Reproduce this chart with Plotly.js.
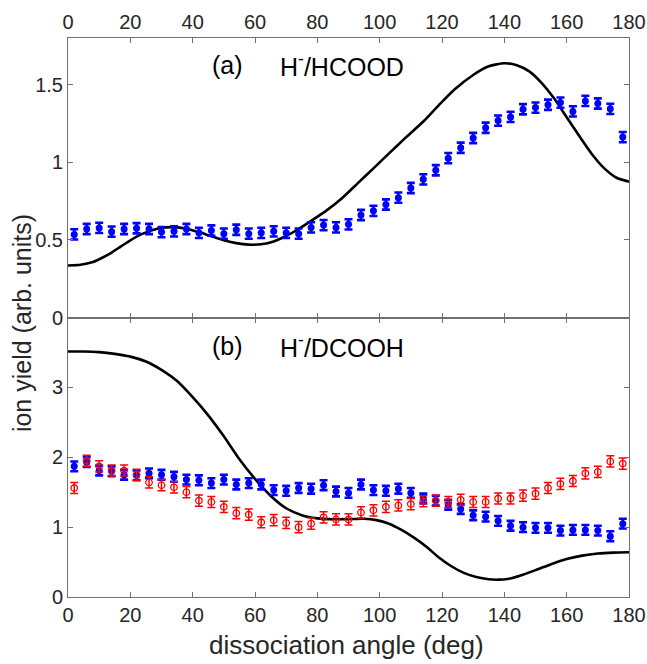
<!DOCTYPE html>
<html>
<head>
<meta charset="utf-8">
<script src="https://cdn.plot.ly/plotly-3.0.1.min.js"></script>
<style>html,body{margin:0;padding:0;background:#fff;}</style>
</head>
<body>
<div id="chart" style="width:647px;height:664px;"></div>
<script>
// Measured angles (deg)
var angles = [2,6,10,14,18,22,26,30,34,38,42,46,50,54,58,62,66,70,74,78,82,86,90,94,98,102,106,110,114,118,122,126,130,134,138,142,146,150,154,158,162,166,170,174,178];

// (a) H-/HCOOD measured yield
var hcoodYield = [0.535,0.57,0.577,0.553,0.57,0.575,0.57,0.55,0.555,0.57,
                  0.545,0.56,0.54,0.565,0.54,0.545,0.555,0.545,0.54,0.58,
                  0.595,0.58,0.6,0.66,0.687,0.728,0.772,0.834,0.89,0.948,
                  1.026,1.093,1.156,1.222,1.268,1.292,1.341,1.352,1.37,1.384,
                  1.327,1.395,1.378,1.344,1.162];

// (a) model curve
var hcoodCurveX = [0,4,8,11,14,17,20,24,29,34,38,42,46,50,54,58,62,66,70,74,78,83,88,93,98,103,108,114,119,124,130,135,140,144,148,152,156,160,164,168,172,176,180];
var hcoodCurveY = [0.335,0.34,0.358,0.385,0.418,0.458,0.497,0.54,0.573,0.582,0.572,0.55,0.523,0.498,0.479,0.469,0.472,0.49,0.525,0.57,0.622,0.69,0.77,0.865,0.96,1.057,1.152,1.262,1.368,1.468,1.562,1.618,1.637,1.625,1.585,1.51,1.41,1.29,1.17,1.055,0.962,0.9,0.875];

// (b) H-/DCOOH measured yields
var dcoohBlue = [1.87,1.93,1.81,1.80,1.75,1.74,1.77,1.75,1.72,1.68,
                 1.67,1.63,1.68,1.61,1.63,1.61,1.53,1.52,1.56,1.55,
                 1.60,1.51,1.49,1.61,1.53,1.52,1.55,1.49,1.41,1.38,
                 1.32,1.26,1.17,1.15,1.09,1.02,1.00,0.99,0.99,0.95,
                 0.96,0.96,0.95,0.87,1.05];
var dcoohRed = [1.56,1.95,1.87,1.81,1.81,1.75,1.64,1.60,1.57,1.50,
                1.38,1.36,1.29,1.20,1.18,1.07,1.10,1.06,1.00,1.05,
                1.14,1.11,1.11,1.21,1.24,1.29,1.31,1.33,1.37,1.38,
                1.36,1.39,1.36,1.36,1.41,1.41,1.45,1.48,1.56,1.62,
                1.66,1.77,1.79,1.94,1.91];

// (b) model curve
var dcoohCurveX = [0,5,10,15,20,25,30,35,40,45,50,55,60,65,70,75,80,85,90,95,99,103,107,111,115,119,123,127,131,135,138,141,145,150,155,160,165,170,175,180];
var dcoohCurveY = [3.514,3.514,3.505,3.48,3.44,3.37,3.25,3.09,2.86,2.6,2.3,1.97,1.69,1.45,1.27,1.17,1.125,1.112,1.115,1.12,1.1,1.048,0.96,0.85,0.72,0.565,0.44,0.345,0.285,0.253,0.248,0.257,0.305,0.385,0.47,0.545,0.592,0.622,0.635,0.64];

// tick labels
var xTicks = [0,20,40,60,80,100,120,140,160,180];
var yTicksA = [0,0.5,1,1.5];
var yTickTextA = ['0','0.5','1','1.5'];
var yTicksB = [0,1,2,3];

var FONT = 'Liberation Sans, Arial, Helvetica, sans-serif';
var AX = '#707070';
var TXT = '#262626';

var traces = [
  {x: hcoodCurveX, y: hcoodCurveY, xaxis:'x2', yaxis:'y2', mode:'lines',
   line:{color:'#000', width:2.6, shape:'spline', smoothing:0.6}, hoverinfo:'skip'},
  {x: angles, y: hcoodYield, xaxis:'x2', yaxis:'y2', mode:'markers',
   marker:{color:'#0000ff', size:7, symbol:'circle'},
   error_y:{type:'constant', value:0.033, color:'#0000ff', thickness:2.6, width:4}},
  {x: dcoohCurveX, y: dcoohCurveY, xaxis:'x', yaxis:'y', mode:'lines',
   line:{color:'#000', width:2.6, shape:'spline', smoothing:0.6}, hoverinfo:'skip'},
  {x: angles, y: dcoohBlue, xaxis:'x', yaxis:'y', mode:'markers',
   marker:{color:'#0000ff', size:7, symbol:'circle'},
   error_y:{type:'constant', value:0.07, color:'#0000ff', thickness:2.6, width:4}},
  {x: angles, y: dcoohRed, xaxis:'x', yaxis:'y', mode:'markers',
   marker:{color:'#ff0000', size:6.5, symbol:'circle-open', line:{color:'#ff0000', width:1.3}},
   error_y:{type:'constant', value:0.08, color:'#ff0000', thickness:1.5, width:4}}
];

function xax(extra){
  var a = {range:[0,180], tickvals:xTicks, ticks:'inside', ticklen:5, tickcolor:AX, tickwidth:1,
    showline:true, linecolor:AX, linewidth:1, mirror:'ticks', showgrid:false, zeroline:false,
    tickfont:{family:FONT, size:20, color:TXT}};
  for (var k in extra) a[k]=extra[k];
  return a;
}
function yax(extra){
  var a = {ticks:'inside', ticklen:5, tickcolor:AX, tickwidth:1,
    showline:true, linecolor:AX, linewidth:1, mirror:'ticks', showgrid:false, zeroline:false,
    tickfont:{family:FONT, size:20, color:TXT}};
  for (var k in extra) a[k]=extra[k];
  return a;
}

var layout = {
  width:647, height:664,
  margin:{l:68, r:18, t:38, b:67},
  paper_bgcolor:'#fff', plot_bgcolor:'#fff',
  showlegend:false,
  font:{family:FONT, color:TXT},
  xaxis: xax({domain:[0,1], anchor:'y', side:'bottom'}),
  xaxis2: xax({domain:[0,1], anchor:'y2', side:'top'}),
  yaxis: yax({domain:[0,0.5], anchor:'x', range:[0,4], tickvals:yTicksB}),
  yaxis2: yax({domain:[0.5,1], anchor:'x2', range:[0,1.8], tickvals:yTicksA, ticktext:yTickTextA}),
  annotations:[
    {xref:'x2', yref:'y2', x:45.4, y:1.628, text:'(a)', showarrow:false, xanchor:'left', yanchor:'middle', font:{family:FONT, size:25, color:'#000'}},
    {xref:'x2', yref:'y2', x:67.3, y:1.628, text:'H<sup>-</sup>/HCOOD', showarrow:false, xanchor:'left', yanchor:'middle', font:{family:FONT, size:25, color:'#000'}},
    {xref:'x', yref:'y', x:45.4, y:3.595, text:'(b)', showarrow:false, xanchor:'left', yanchor:'middle', font:{family:FONT, size:25, color:'#000'}},
    {xref:'x', yref:'y', x:67.3, y:3.595, text:'H<sup>-</sup>/DCOOH', showarrow:false, xanchor:'left', yanchor:'middle', font:{family:FONT, size:25, color:'#000'}},
    {xref:'paper', yref:'paper', x:-0.082, y:0.49, text:'ion yield (arb. units)', textangle:-90, showarrow:false, xanchor:'center', yanchor:'middle', font:{family:FONT, size:25, color:TXT}},
    {xref:'paper', yref:'paper', x:0.497, y:-0.086, text:'dissociation angle (deg)', showarrow:false, xanchor:'center', yanchor:'middle', font:{family:FONT, size:26, color:TXT}}
  ]
};

Plotly.newPlot('chart', traces, layout, {displayModeBar:false, staticPlot:true});
</script>
</body>
</html>
